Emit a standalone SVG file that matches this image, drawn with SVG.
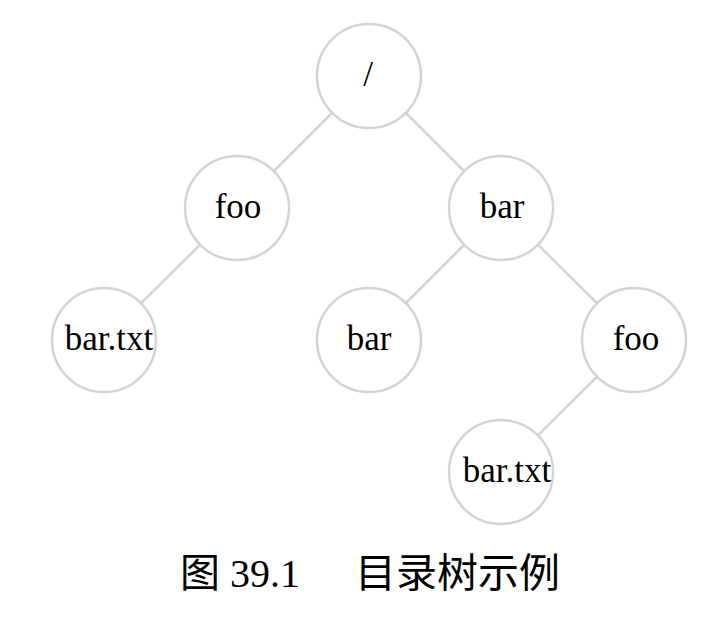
<svg xmlns="http://www.w3.org/2000/svg" width="722" height="620" viewBox="0 0 722 620">
<style>
.n circle{fill:#fff;stroke:#d3d3d3;stroke-width:2.5}
.n text{font-family:"Liberation Serif","Times New Roman",serif;font-size:35px;fill:#000;text-anchor:middle}
.e line{stroke:#d3d3d3;stroke-width:2.5}
.cap{font-family:"Liberation Serif","Noto Sans CJK SC",serif;font-size:40px;fill:#000}
</style>
<rect width="722" height="620" fill="#fff"/>
<g id="edges" class="e">
<line x1="369" y1="76" x2="237" y2="208"/>
<line x1="369" y1="76" x2="501" y2="208"/>
<line x1="237" y1="208" x2="104" y2="340"/>
<line x1="501" y1="208" x2="369" y2="340"/>
<line x1="501" y1="208" x2="634" y2="340"/>
<line x1="634" y1="340" x2="501" y2="472"/>
</g>
<g id="root" class="n"><circle cx="369" cy="76" r="52"/><text x="368" y="86">/</text></g>
<g id="foo1" class="n"><circle cx="237" cy="208" r="52"/><text x="238" y="218">foo</text></g>
<g id="bar1" class="n"><circle cx="501" cy="208" r="52"/><text x="502" y="218">bar</text></g>
<g id="bartxt1" class="n"><circle cx="104" cy="340" r="52"/><text x="109" y="350">bar.txt</text></g>
<g id="bar2" class="n"><circle cx="369" cy="340" r="52"/><text x="369" y="350">bar</text></g>
<g id="foo2" class="n"><circle cx="634" cy="340" r="52"/><text x="636" y="350">foo</text></g>
<g id="bartxt2" class="n"><circle cx="501" cy="472" r="52"/><text x="507" y="482">bar.txt</text></g>
<text class="cap" x="180" y="587">图 39.1</text>
<text class="cap" x="355" y="587" textLength="205" lengthAdjust="spacingAndGlyphs">目录树示例</text>
</svg>
